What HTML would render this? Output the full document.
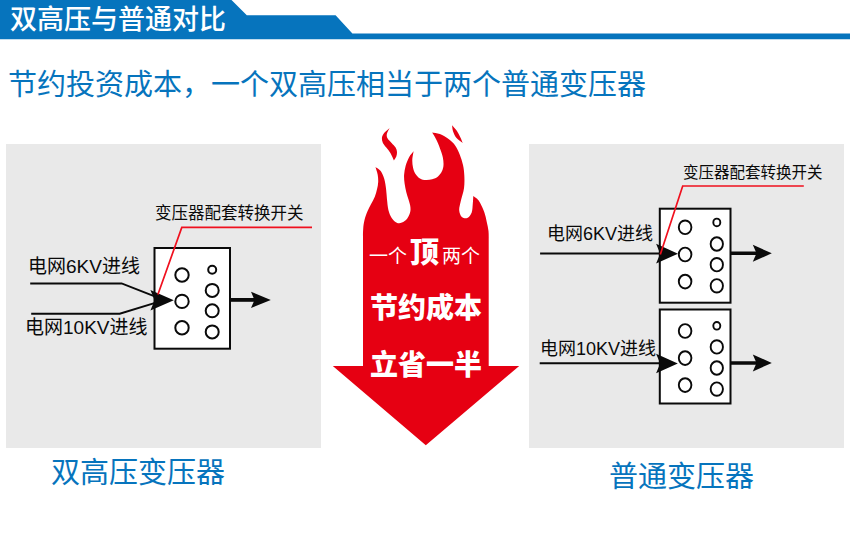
<!DOCTYPE html>
<html lang="zh-CN">
<head>
<meta charset="utf-8">
<title>双高压与普通对比</title>
<style>
html,body{margin:0;padding:0;background:#fff;}
body{width:850px;height:545px;position:relative;overflow:hidden;font-family:"Liberation Sans","Noto Sans CJK SC",sans-serif;}
svg{position:absolute;left:0;top:0;display:block;}
.t{position:absolute;white-space:nowrap;line-height:1.2;color:#0a0a0a;font-family:"Liberation Sans","Noto Sans CJK SC",sans-serif;}
</style>
</head>
<body>
<svg width="850" height="545" viewBox="0 0 850 545">
<rect width="850" height="545" fill="#fff"/>
<path fill="#0674bd" d="M0,0H231.5L246.8,15.3H335.6L352.4,33.5H850V39.2H0Z"/>
<rect x="6" y="144" width="315" height="304" fill="#e9e9e9"/>
<rect x="529" y="144" width="315" height="304" fill="#e9e9e9"/>
<path fill="#e60012" d="M363.0,366L332.8,366L425.8,445.3L519.2,366L488.7,366L488.7,240C488.7,238.5 488.8,234.1 488.5,231C488.2,227.9 487.4,224.8 486.7,221.7C486,218.6 485.5,215.6 484.4,212.5C483.3,209.4 481.5,205.6 480.3,203.3C479.1,201 478.3,200 477.1,198.8C475.9,197.6 473.9,196.5 473.3,196C473.2,197.3 473.1,200.9 472.8,203.6C472.5,206.3 472.6,210 471.7,212.4C470.8,214.8 468.9,217.2 467.3,218C465.7,218.8 463.2,218.2 461.8,216.9C460.4,215.6 459.4,212.8 459.2,210.2C459,207.6 459.9,205.1 460.7,201.4C461.5,197.7 463.4,192.6 464,188.2C464.6,183.8 464.5,179.1 464.3,175.2C464.1,171.3 463.8,168.3 463,164.9C462.2,161.5 461.1,157.9 459.8,154.7C458.5,151.5 457.1,148.3 455.3,145.7C453.5,143.1 451.5,141.2 448.9,139.3C446.3,137.4 442.7,135.2 439.9,134.1C437.1,133 433.5,132.8 432.2,132.5C432.9,133.6 434.8,136.7 436.1,139.3C437.4,141.9 438.8,145.2 439.9,148.2C441,151.2 442.2,154.4 442.8,157.2C443.4,160 443.6,162.6 443.5,164.9C443.4,167.2 442.8,169.4 441.9,171.3C441,173.2 439.6,175.2 438,176.5C436.4,177.8 434.2,178.7 432.2,179.3C430.2,179.9 427.8,180.2 425.8,180.1C423.8,179.9 421.7,179.4 420,178.4C418.3,177.4 416.7,175.7 415.5,173.9C414.3,172.1 413.5,169.8 413,167.5C412.5,165.2 412.2,162.5 412.3,159.8C412.4,157.1 413.4,152.7 413.6,151.3C412.9,152.3 410.4,154.8 409.1,157.2C407.8,159.6 406.4,163 405.6,165.9C404.8,168.8 404.3,171.8 404.1,174.7C403.9,177.6 404.2,180.6 404.6,183.5C405,186.4 405.7,189.6 406.3,192.3C406.9,195 407.8,197.2 408.5,199.6C409.2,202 410.1,204.7 410.4,206.9C410.6,209.1 410.6,210.8 410,212.8C409.4,214.8 408.5,217.1 407.1,218.7C405.8,220.3 403.6,221.9 401.9,222.6C400.2,223.3 398.5,223.5 396.8,222.7C395.1,221.9 393.1,220 391.7,217.9C390.3,215.8 389.2,213 388.4,209.9C387.6,206.8 387.4,203 387,199.6C386.6,196.2 386.6,192.7 386.1,189.3C385.7,185.9 385.2,182.2 384.3,179.1C383.4,176 382.2,173 380.7,171C379.2,169 376.4,167.7 375.5,167C375.9,168.3 377.2,172.2 377.7,174.7C378.1,177.2 378.3,179.6 378.2,182C378.1,184.4 377.6,186.9 377,189.3C376.4,191.8 375.8,194.2 374.8,196.7C373.8,199.1 372.3,201.6 371.1,204C369.9,206.4 368.6,208.6 367.5,211.3C366.4,214 365.2,217.2 364.5,220.1C363.8,223 363.4,225.6 363.2,228.9C362.9,232.2 363,238.2 363,240Z"/>
<path fill="#e60012" d="M389.7,128.1C388.7,129 385.1,131.9 383.8,133.6C382.5,135.3 382,136.8 381.9,138.3C381.8,139.9 382.2,141.4 382.9,142.9C383.6,144.4 385.1,145.8 386.3,147.5C387.6,149.2 389.1,150.8 390.4,153C391.7,155.2 393.3,159.2 393.9,160.4C394.3,159.8 395.8,157.9 396.3,156.5C396.8,155.1 397.1,153.6 397,152.1C396.9,150.6 396.5,149 395.6,147.5C394.7,146 393,144.4 391.6,142.9C390.2,141.4 388.3,139.8 387.5,138.3C386.7,136.8 386.5,135.5 386.9,133.8C387.3,132.1 389.2,129.1 389.7,128.1Z"/>
<path fill="#e60012" d="M452.1,125.2C452.2,126.2 452.3,129.1 453,131.2C453.7,133.3 454.7,135.7 456.3,137.7C457.9,139.7 461.6,142.1 462.7,143C462.3,142 461.3,139.2 460.3,137.2C459.3,135.2 458.2,132.8 456.8,130.8C455.4,128.8 452.9,126.1 452.1,125.2Z"/>
<rect x="154.5" y="248" width="75.5" height="100.7" fill="#fff" stroke="#0a0a0a" stroke-width="2"/>
<ellipse cx="182" cy="275.0" rx="6.7" ry="6.7" fill="none" stroke="#0a0a0a" stroke-width="2"/>
<ellipse cx="182" cy="301.4" rx="6.7" ry="6.7" fill="none" stroke="#0a0a0a" stroke-width="2"/>
<ellipse cx="182" cy="327.8" rx="6.7" ry="6.7" fill="none" stroke="#0a0a0a" stroke-width="2"/>
<ellipse cx="212.2" cy="269.8" rx="4.0" ry="4.0" fill="none" stroke="#0a0a0a" stroke-width="2"/>
<ellipse cx="212.2" cy="290.4" rx="6.5" ry="6.5" fill="none" stroke="#0a0a0a" stroke-width="2"/>
<ellipse cx="212.2" cy="310.8" rx="6.5" ry="6.5" fill="none" stroke="#0a0a0a" stroke-width="2"/>
<ellipse cx="212.2" cy="331.9" rx="6.5" ry="6.5" fill="none" stroke="#0a0a0a" stroke-width="2"/>
<path fill="none" stroke="#0a0a0a" stroke-width="2" d="M30.2,283.4H121.6L156,296.9M31.2,313.8H119.7L156,302.6"/>
<path fill="#0a0a0a" d="M173.8,300.2L150.4,290.0L154.6,300.2L150.4,310.4Z"/>
<path stroke="#0a0a0a" stroke-width="3.8" d="M231,299.9H256"/>
<path fill="#0a0a0a" d="M270.8,299.9L251,291.7L254.5,299.9L251,308.09999999999997Z"/>
<path fill="none" stroke="#f0101e" stroke-width="1.7" d="M312,227.4H181.8L157.9,294.5"/>
<rect x="659.8" y="208.7" width="70.7" height="94" fill="#fff" stroke="#0a0a0a" stroke-width="2"/>
<rect x="659.8" y="309.5" width="70.7" height="94" fill="#fff" stroke="#0a0a0a" stroke-width="2"/>
<ellipse cx="685.1" cy="227.3" rx="6.3" ry="6.85" fill="none" stroke="#0a0a0a" stroke-width="1.9"/>
<ellipse cx="685.1" cy="254.5" rx="6.3" ry="6.85" fill="none" stroke="#0a0a0a" stroke-width="1.9"/>
<ellipse cx="685.1" cy="281.6" rx="6.3" ry="6.85" fill="none" stroke="#0a0a0a" stroke-width="1.9"/>
<ellipse cx="685.1" cy="331" rx="6.3" ry="6.85" fill="none" stroke="#0a0a0a" stroke-width="1.9"/>
<ellipse cx="685.1" cy="358.1" rx="6.3" ry="6.85" fill="none" stroke="#0a0a0a" stroke-width="1.9"/>
<ellipse cx="685.1" cy="385.1" rx="6.3" ry="6.85" fill="none" stroke="#0a0a0a" stroke-width="1.9"/>
<ellipse cx="716.8" cy="222.4" rx="3.5" ry="3.8" fill="none" stroke="#0a0a0a" stroke-width="1.9"/>
<ellipse cx="716.8" cy="325.8" rx="3.5" ry="3.8" fill="none" stroke="#0a0a0a" stroke-width="1.9"/>
<ellipse cx="716.8" cy="244" rx="6.15" ry="6.7" fill="none" stroke="#0a0a0a" stroke-width="1.9"/>
<ellipse cx="716.8" cy="264.7" rx="6.15" ry="6.7" fill="none" stroke="#0a0a0a" stroke-width="1.9"/>
<ellipse cx="716.8" cy="285.8" rx="6.15" ry="6.7" fill="none" stroke="#0a0a0a" stroke-width="1.9"/>
<ellipse cx="716.8" cy="346.9" rx="6.15" ry="6.7" fill="none" stroke="#0a0a0a" stroke-width="1.9"/>
<ellipse cx="716.8" cy="368" rx="6.15" ry="6.7" fill="none" stroke="#0a0a0a" stroke-width="1.9"/>
<ellipse cx="716.8" cy="389.1" rx="6.15" ry="6.7" fill="none" stroke="#0a0a0a" stroke-width="1.9"/>
<path fill="none" stroke="#0a0a0a" stroke-width="2" d="M540.1,253.4H661M539.7,363.2H661"/>
<path fill="#0a0a0a" d="M678,253.7L656.1,243.79999999999998L660.2,253.7L656.1,263.59999999999997Z"/>
<path fill="#0a0a0a" d="M677.8,363.5L656.1,353.7L660.2,363.5L656.1,373.3Z"/>
<path stroke="#0a0a0a" stroke-width="3.5" d="M731,253.3H757M731,362.9H757"/>
<path fill="#0a0a0a" d="M771.8,253.3L752.8,244.8L756.5,253.3L752.8,261.8Z"/>
<path fill="#0a0a0a" d="M771.8,362.9L752.8,354.4L756.5,362.9L752.8,371.4Z"/>
<path fill="none" stroke="#f0101e" stroke-width="1.7" d="M803.8,186H682.7L660.3,254.5"/>
</svg>
<div class="t" style="left:10px;top:4px;font-size:27px;color:#fff;font-weight:500">双高压与普通对比</div>
<div class="t" style="left:8px;top:68px;font-size:29px;color:#0674bd">节约投资成本，一个双高压相当于两个普通变压器</div>
<div class="t" style="left:28px;top:256px;font-size:19px">电网6KV进线</div>
<div class="t" style="left:25px;top:317px;font-size:19px">电网10KV进线</div>
<div class="t" style="left:155px;top:204px;font-size:16.5px">变压器配套转换开关</div>
<div class="t" style="left:369px;top:246px;font-size:19px;color:#fff">一个<span style="font-size:29px;font-weight:900;line-height:0;margin:0 3px">顶</span>两个</div>
<div class="t" style="left:370px;top:292px;font-size:28px;color:#fff;font-weight:900">节约成本</div>
<div class="t" style="left:370px;top:349px;font-size:28px;color:#fff;font-weight:900">立省一半</div>
<div class="t" style="left:683px;top:164px;font-size:15.5px">变压器配套转换开关</div>
<div class="t" style="left:547px;top:224px;font-size:18px">电网6KV进线</div>
<div class="t" style="left:540px;top:339px;font-size:18px">电网10KV进线</div>
<div class="t" style="left:51px;top:456px;font-size:29px;color:#0674bd">双高压变压器</div>
<div class="t" style="left:609px;top:460px;font-size:29px;color:#0674bd">普通变压器</div>
</body>
</html>
